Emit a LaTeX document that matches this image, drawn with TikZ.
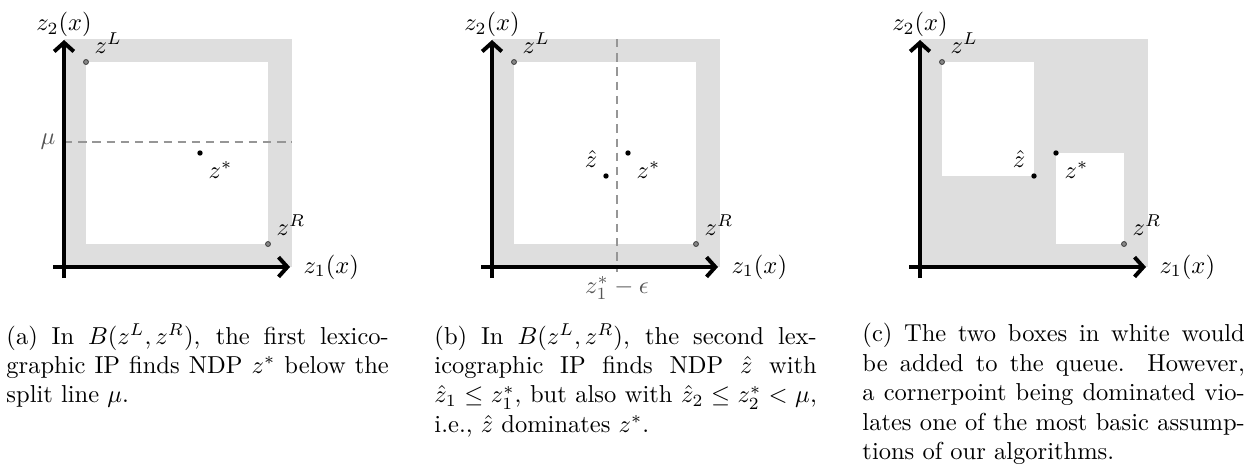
\documentclass[tikz,border=0pt]{standalone}
\usepackage{tikz}
\usetikzlibrary{arrows.meta,positioning}
\definecolor{boxgray}{RGB}{222,222,222}
\definecolor{splitgray}{RGB}{150,150,150}
\definecolor{cornergray}{RGB}{135,135,135}
\definecolor{notegray}{RGB}{85,85,85}
\setlength{\parindent}{0pt}

\tikzset{
  axis/.style={line width=1.6pt,-{Straight Barb[length=3.6pt,width=8pt]}},
  ndp/.style={circle,fill=black,inner sep=0pt,minimum size=2.2pt},
  cornerpt/.style={circle,draw=black!75,fill=cornergray,line width=0.35pt,inner sep=0pt,minimum size=2pt},
  splitline/.style={splitgray,line width=0.5pt,dash pattern=on 3.4pt off 2.4pt},
  subcap/.style={anchor=north west,inner sep=0pt,text width=156pt,align=justify}
}

\begin{document}
\begin{tikzpicture}[x=0.408pt,y=-0.408pt]
\useasboundingbox (0,0) rectangle (1259,466);

%% ── panel (a): split line mu ────────────────────────────────────────────────
\begin{scope}[shift={(0,0)}]
  \fill[boxgray] (64,39) rectangle (292,267);
  \fill[white] (86,62) rectangle (268,244);
  \coordinate (mua) at (64,142);
  \coordinate (mub) at (292,142);
  \draw[splitline] (mua) -- (mub);
  \node[left,text=notegray] (mulbl) at (mua) {$\mu$};
  % axes
  \coordinate (ya0) at (64,278);
  \coordinate (ya1) at (64,40);
  \coordinate (xa0) at (53,267);
  \coordinate (xa1) at (290,267);
  \draw[axis] (ya0) -- (ya1);
  \draw[axis] (xa0) -- (xa1);
  \node[above,inner sep=1pt] (z2a) at (ya1) {$z_2(x)$};
  \node[right=2pt] (z1a) at (xa1) {$z_1(x)$};
  % points
  \node[cornerpt] (zLa) at (86,62) {};
  \node[cornerpt] (zRa) at (268,244) {};
  \node[ndp] (zsa) at (200,153) {};
  \node[above right] at (zLa) {$z^L$};
  \node[above right] at (zRa) {$z^R$};
  \node[below right] at (zsa) {$z^*$};
\end{scope}

%% ── panel (b): second lexicographic IP ──────────────────────────────────────
\begin{scope}[shift={(428,0)}]
  \fill[boxgray] (64,39) rectangle (292,267);
  \fill[white] (86,62) rectangle (268,244);
  \coordinate (epsa) at (189,39);
  \coordinate (epsb) at (189,272);
  \draw[splitline] (epsa) -- (epsb);
  \node[below,inner sep=1.5pt,text=notegray] (epslbl) at (epsb) {$z_1^*-\epsilon$};
  % axes
  \coordinate (yb0) at (64,278);
  \coordinate (yb1) at (64,40);
  \coordinate (xb0) at (53,267);
  \coordinate (xb1) at (290,267);
  \draw[axis] (yb0) -- (yb1);
  \draw[axis] (xb0) -- (xb1);
  \node[above,inner sep=1pt] (z2b) at (yb1) {$z_2(x)$};
  \node[right=2pt] (z1b) at (xb1) {$z_1(x)$};
  % points
  \node[cornerpt] (zLb) at (86,62) {};
  \node[cornerpt] (zRb) at (268,244) {};
  \node[ndp] (zsb) at (200,153) {};
  \node[ndp] (zhb) at (178,176) {};
  \node[above right] at (zLb) {$z^L$};
  \node[above right] at (zRb) {$z^R$};
  \node[below right] at (zsb) {$z^*$};
  \node[above left] at (zhb) {$\hat z$};
\end{scope}

%% ── panel (c): boxes added to the queue ─────────────────────────────────────
\begin{scope}[shift={(856,0)}]
  \fill[boxgray] (64,39) rectangle (292,267);
  \fill[white] (86,62) rectangle (178,176);   % upper left box
  \fill[white] (200,153) rectangle (268,244); % lower right box
  % axes
  \coordinate (yc0) at (64,278);
  \coordinate (yc1) at (64,40);
  \coordinate (xc0) at (53,267);
  \coordinate (xc1) at (290,267);
  \draw[axis] (yc0) -- (yc1);
  \draw[axis] (xc0) -- (xc1);
  \node[above,inner sep=1pt] (z2c) at (yc1) {$z_2(x)$};
  \node[right=2pt] (z1c) at (xc1) {$z_1(x)$};
  % points
  \node[cornerpt] (zLc) at (86,62) {};
  \node[cornerpt] (zRc) at (268,244) {};
  \node[ndp] (zsc) at (200,153) {};
  \node[ndp] (zhc) at (178,176) {};
  \node[above right] at (zLc) {$z^L$};
  \node[above right] at (zRc) {$z^R$};
  \node[below right] at (zsc) {$z^*$};
  \node[above left] at (zhc) {$\hat z$};
\end{scope}

%% ── sub-captions ────────────────────────────────────────────────────────────
\node[subcap] (capa) at (6,323)
  {(a) In $B(z^L, z^R)$, the first lexico-\linebreak graphic IP finds NDP $z^*$ below the\linebreak split line $\mu$.};
\node[subcap] (capb) at (434,323)
  {(b) In $B(z^L, z^R)$, the second lex-\linebreak icographic IP finds NDP $\hat z$ with\linebreak
   $\hat z_1 \leq z_1^*$, but also with $\hat z_2 \leq z_2^* < \mu$,\linebreak i.e., $\hat z$ dominates $z^*$.};
\node[subcap] (capc) at (862,323)
  {(c) The two boxes in white would\linebreak be added to the queue. However,\linebreak
   a cornerpoint being dominated vio-\linebreak lates one of the most basic assump-\linebreak tions of our algorithms.};

\end{tikzpicture}
\end{document}
